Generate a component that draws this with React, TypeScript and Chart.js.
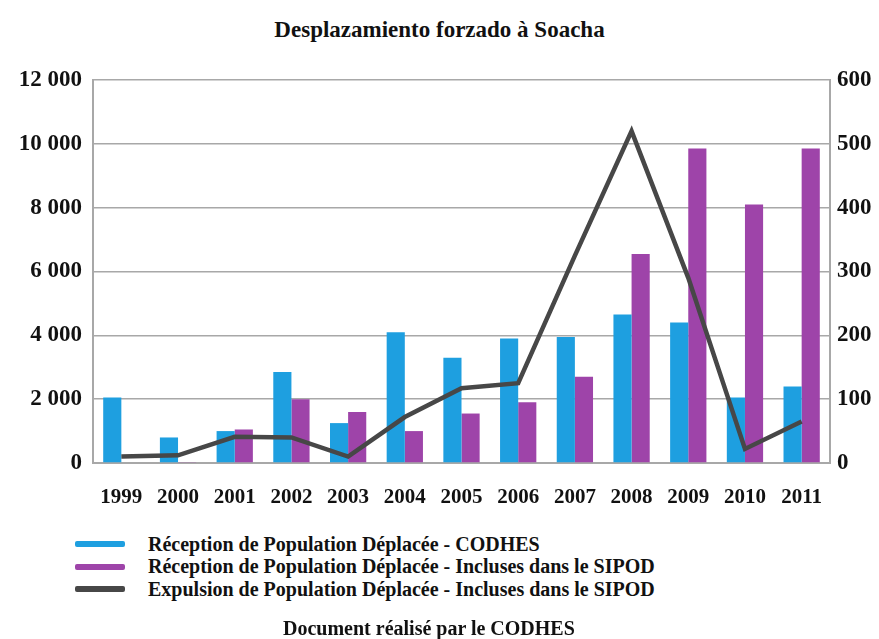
import React, { useEffect, useRef } from "react";
import { Chart, registerables } from "chart.js";

Chart.register(...registerables);

const categories = ["1999", "2000", "2001", "2002", "2003", "2004", "2005", "2006", "2007", "2008", "2009", "2010", "2011"];
const receptionCodhes = [2050, 800, 1000, 2850, 1250, 4100, 3300, 3900, 3950, 4650, 4400, 2050, 2400];
const receptionSipod = [0, 30, 1050, 2000, 1600, 1000, 1550, 1900, 2700, 6550, 9850, 8100, 9850];
const expulsionSipod = [10, 12, 41, 40, 10, 72, 117, 125, 325, 520, 290, 22, 65];

const seriesNames = [
  "Réception de Population Déplacée - CODHES",
  "Réception de Population Déplacée - Incluses dans le SIPOD",
  "Expulsion de Population Déplacée - Incluses dans le SIPOD",
];
const titleText = "Desplazamiento forzado à Soacha";
const footerText = "Document réalisé par le CODHES";

const BLUE = "#1e9fe0";
const PURPLE = "#9e44a9";
const GREY = "#474747";
const GRID = "#a8a8a8";
const FONT = '"Liberation Serif", "Times New Roman", serif';

const fmt = (v: number) => {
  const s = Math.round(v).toString();
  return s.replace(/\B(?=(\d{3})+(?!\d))/g, " ");
};

export default function App() {
  const ref = useRef<HTMLCanvasElement | null>(null);

  useEffect(() => {
    if (!ref.current) return;
    const chart = new Chart(ref.current, {
      type: "bar",
      data: {
        labels: categories,
        datasets: [
          {
            type: "line",
            label: seriesNames[2],
            data: expulsionSipod,
            yAxisID: "y1",
            borderColor: GREY,
            borderWidth: 4.5,
            pointRadius: 0,
            tension: 0,
            fill: false,
            order: 0,
          } as any,
          {
            type: "bar",
            label: seriesNames[0],
            data: receptionCodhes,
            yAxisID: "y",
            backgroundColor: BLUE,
            categoryPercentage: 0.64,
            barPercentage: 1,
            order: 1,
          },
          {
            type: "bar",
            label: seriesNames[1],
            data: receptionSipod,
            yAxisID: "y",
            backgroundColor: PURPLE,
            categoryPercentage: 0.64,
            barPercentage: 1,
            order: 1,
          },
        ],
      },
      options: {
        responsive: false,
        animation: false,
        layout: { padding: { top: 80, left: 0, right: 0, bottom: 0 } },
        plugins: {
          legend: { display: false },
          title: { display: false },
          tooltip: { enabled: false },
        },
        scales: {
          x: {
            offset: true,
            grid: { display: false },
            border: { display: true, color: GRID, width: 2 },
            ticks: {
              color: "#111",
              font: { family: FONT, size: 21, weight: "bold" },
              padding: 14,
              maxRotation: 0,
              autoSkip: false,
            },
            afterFit: (s: any) => {
              s.height = 47;
            },
          },
          y: {
            position: "left",
            min: 0,
            max: 12000,
            ticks: {
              stepSize: 2000,
              color: "#111",
              font: { family: FONT, size: 23, weight: "bold" },
              padding: 11,
              callback: (v: any) => fmt(Number(v)),
            },
            grid: { color: GRID, lineWidth: 1.5, drawTicks: false },
            border: { display: true, color: GRID, width: 2 },
            afterFit: (s: any) => {
              s.width = 93;
            },
          },
          y1: {
            position: "right",
            min: 0,
            max: 600,
            ticks: {
              stepSize: 100,
              color: "#111",
              font: { family: FONT, size: 23, weight: "bold" },
              padding: 7,
            },
            grid: { display: false, drawTicks: false },
            border: { display: true, color: GRID, width: 2 },
            afterFit: (s: any) => {
              s.width = 49;
            },
          },
        },
      },
    });
    return () => chart.destroy();
  }, []);

  const legendColors = [BLUE, PURPLE, GREY];

  return (
    <div style={{ position: "fixed", left: 0, top: 0, width: 879, height: 639, background: "#fff", fontFamily: FONT }}>
      <div
        style={{
          position: "absolute",
          left: 0,
          width: 879,
          top: 16,
          textAlign: "center",
          fontWeight: "bold",
          fontSize: 23,
          lineHeight: "28px",
          color: "#111",
        }}
      >
        {titleText}
      </div>
      <canvas ref={ref} width={879} height={510} style={{ position: "absolute", left: 0, top: 0, width: 879, height: 510 }} />
      {seriesNames.map((name, i) => (
        <div key={name} style={{ position: "absolute", left: 75, top: 533 + i * 22.5, height: 22, display: "flex", alignItems: "center" }}>
          <div style={{ width: 50, height: 6, background: legendColors[i], borderRadius: 2 }} />
          <span style={{ marginLeft: 23, fontWeight: "bold", fontSize: 20, color: "#111", whiteSpace: "nowrap" }}>{name}</span>
        </div>
      ))}
      <div
        style={{
          position: "absolute",
          left: 283,
          top: 617,
          fontWeight: "bold",
          fontSize: 20,
          lineHeight: "22px",
          color: "#111",
          whiteSpace: "nowrap",
        }}
      >
        {footerText}
      </div>
    </div>
  );
}
